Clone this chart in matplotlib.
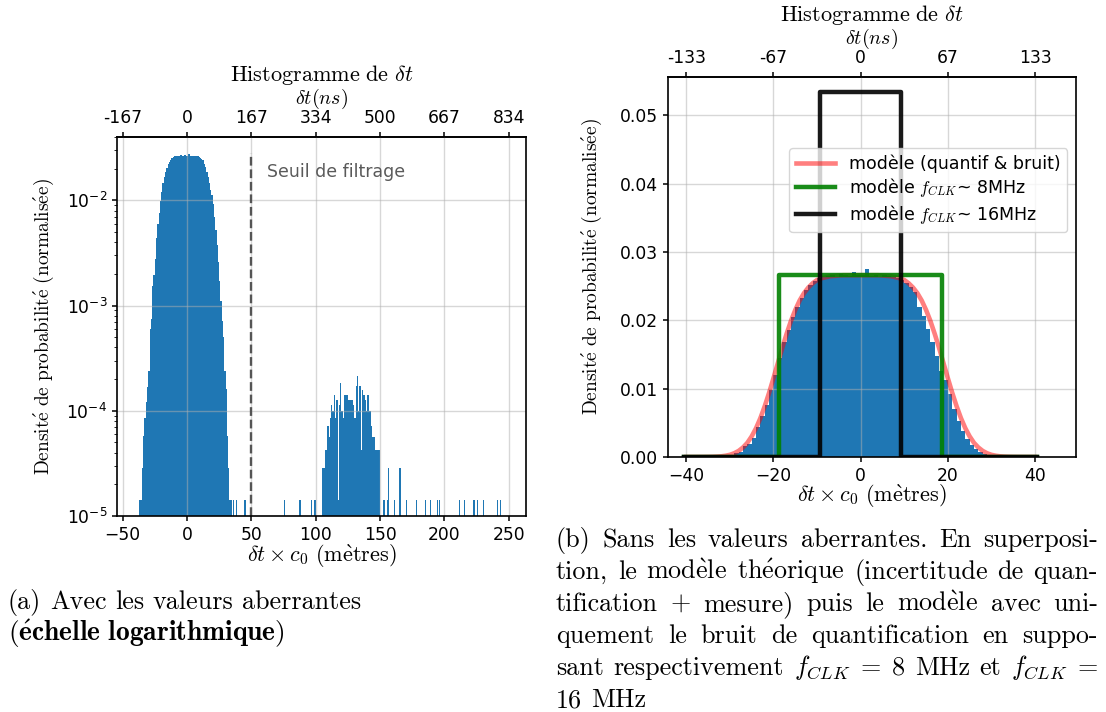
import numpy as np
import matplotlib
matplotlib.use("Agg")
import matplotlib.pyplot as plt

plt.rcParams['mathtext.fontset'] = 'cm'
plt.rcParams['axes.linewidth'] = 1.2
plt.rcParams['xtick.major.width'] = 1.1
plt.rcParams['ytick.major.width'] = 1.1
plt.rcParams['xtick.labelsize'] = 12.3
plt.rcParams['ytick.labelsize'] = 12.3

# ---------------- data ----------------
# main peak histogram (density), 1 m bins starting at -37 m
peak_start = -37.0
bin_w = 1.0
peak_density = [1.42e-5, 1.42e-5, 2.84e-5, 5.7e-5, 8.5e-5, 1.2e-4, 1.7e-4, 2.4e-4,
                6.0e-4, 7.5e-4, 1.55e-3, 1.95e-3, 2.8e-3, 4.4e-3, 6.0e-3, 7.6e-3, 9.8e-3, 0.0120,
                0.0145, 0.0168, 0.0186, 0.0205, 0.0220, 0.0233, 0.0244, 0.0252, 0.0257, 0.0262,
                0.0264, 0.0265, 0.0266, 0.0264, 0.0268, 0.0266, 0.0265, 0.0270, 0.0267, 0.0266,
                0.0275, 0.0265, 0.0267, 0.0264, 0.0266, 0.0265, 0.0263, 0.0262, 0.0259, 0.0254,
                0.0249, 0.0241, 0.0220, 0.0206, 0.0188, 0.0168, 0.0148, 0.0126, 0.0113, 9.2e-3,
                7.0e-3, 5.2e-3, 3.8e-3, 2.6e-3, 1.7e-3, 1.1e-3, 7.2e-4, 5.0e-4, 2.4e-4, 1.6e-4,
                5.7e-5, 2.84e-5, 1.42e-5, 1.42e-5]

# density of one single sample in a bin
unit = 1.42e-5
# outlier cluster (counts), 1 m bins starting at 105 m
cluster_start = 105.0
cluster_counts = [2, 2, 3, 3, 5, 4, 6, 8, 7, 10, 6, 9, 1, 8, 13, 7, 6, 10, 10, 10,
                  9, 9, 9, 9, 8, 6, 12, 15, 7, 12, 3, 11, 10, 9, 7, 10, 7, 7, 5, 4,
                  4, 3, 3, 3, 3]
# isolated outliers (bin left edge, counts)
iso_x = [36, 38, 44, 45, 75, 87, 88, 96, 99, 152, 153, 155, 156, 161, 165, 170, 178,
         185, 189, 194, 196, 211, 215, 222, 223, 225, 230, 241, 243]
iso_counts = [1, 1, 1, 1, 1, 1, 1, 1, 1, 1, 1, 1, 2, 1, 2, 1, 1,
              1, 1, 1, 1, 1, 1, 1, 1, 1, 1, 1, 1]
threshold = 50.0
threshold_top = 0.028

left_xticks = [-50, 0, 50, 100, 150, 200, 250]
left_top_labels = ['-167', '0', '167', '334', '500', '667', '834']
right_xticks = [-40, -20, 0, 20, 40]
right_top_labels = ['-133', '-67', '0', '67', '133']
right_yticks = [0.00, 0.01, 0.02, 0.03, 0.04, 0.05]

# theoretical model (quantification & noise), sampled every metre from -40 to 40
model_x = list(range(-40, 41))
model_y = [0.0, 0.0, 0.0, 0.000003, 0.000006, 0.000013, 0.000027, 0.000054, 0.00010, 0.000186,
           0.00032, 0.00055, 0.00089, 0.00139, 0.00207, 0.00302, 0.00422, 0.0057, 0.00745, 0.00941,
           0.01154, 0.01374, 0.01593, 0.0180, 0.0199, 0.02152, 0.0229, 0.02398, 0.0248, 0.02543,
           0.0259, 0.02615, 0.0263, 0.02645, 0.0265, 0.02656, 0.0266, 0.0266, 0.0266, 0.0266,
           0.0266,
           0.0266, 0.0266, 0.0266, 0.0266, 0.02656, 0.0265, 0.02645, 0.0263, 0.02615, 0.0259,
           0.02543, 0.0248, 0.02398, 0.0229, 0.02152, 0.0199, 0.0180, 0.01593, 0.01374, 0.01154,
           0.00941, 0.00745, 0.0057, 0.00422, 0.00302, 0.00207, 0.00139, 0.00089, 0.00055, 0.00032,
           0.000186, 0.00010, 0.000054, 0.000027, 0.000013, 0.000006, 0.000003, 0.0, 0.0, 0.0]
# uniform quantification models
clk8_x = [-40.5, -18.74, -18.74, 18.74, 18.74, 40.5]
clk8_y = [0.0, 0.0, 0.02669, 0.02669, 0.0, 0.0]
clk16_x = [-40.5, -9.3, -9.3, 9.3, 9.3, 40.5]
clk16_y = [0.0, 0.0, 0.0534, 0.0534, 0.0, 0.0]

BLUE = '#1f77b4'
W, H = 1106, 712
fig = plt.figure(figsize=(W / 100, H / 100), dpi=100)
axL = fig.add_axes([117 / W, 1 - 516 / H, 409 / W, 379 / H])
axR = fig.add_axes([668 / W, 1 - 457 / H, 408 / W, 380 / H])

GRID = dict(color='#b0b0b0', alpha=0.5, lw=1.0)

# ---------------- left plot ----------------
peak_edges = peak_start + bin_w * np.arange(len(peak_density) + 1)
cl_edges = cluster_start + bin_w * np.arange(len(cluster_counts) + 1)
axL.stairs(peak_density, peak_edges, fill=True, baseline=1e-9, color=BLUE, lw=0)
axL.stairs(np.array(cluster_counts) * unit, cl_edges, fill=True, baseline=1e-9, color=BLUE, lw=0)
axL.bar(iso_x, np.array(iso_counts) * unit, width=0.85, align='edge', bottom=1e-9,
        color=BLUE, lw=0)
axL.set_yscale('log')
axL.set_ylim(1e-5, 0.0401)
axL.set_xlim(-54.3, 263.3)
axL.set_xticks(left_xticks)
axL.grid(True, which='major', **GRID)
axL.plot([threshold, threshold], [1e-5, threshold_top], ls='--', color='#555555', lw=1.7)
axL.text(62, 0.0185, 'Seuil de filtrage', color='#5a5a5a', fontsize=12.5, va='center')
secL = axL.secondary_xaxis('top')
secL.set_ticks(left_xticks, labels=left_top_labels)
secL.tick_params(labelsize=12.3, width=1.1)

# ---------------- right plot ----------------
axR.stairs(peak_density, peak_edges, fill=True, color=BLUE, lw=0)
axR.plot(model_x, model_y, color='red', alpha=0.5, lw=3.3, label='modèle (quantif & bruit)')
axR.plot(clk8_x, clk8_y, color='green', alpha=0.9, lw=3.2, label=r'modèle $f_{CLK}$~ 8MHz')
axR.plot(clk16_x, clk16_y, color='k', alpha=0.9, lw=3.2, label=r'modèle $f_{CLK}$~ 16MHz')
axR.set_xlim(-44.2, 49.4)
axR.set_ylim(0, 0.0556)
axR.set_xticks(right_xticks)
axR.set_yticks(right_yticks)
axR.set_yticklabels(['%.2f' % v for v in right_yticks])
axR.grid(True, which='major', **GRID)
secR = axR.secondary_xaxis('top')
secR.set_ticks(right_xticks, labels=right_top_labels)
secR.tick_params(labelsize=12.3, width=1.1)
axR.legend(loc='upper right', bbox_to_anchor=(0.978, 0.813), borderaxespad=0,
           fontsize=12.5, handlelength=2.3, labelspacing=0.22, borderpad=0.35)

# ---------------- labels ----------------
ylab = r'$\mathrm{Densit\acute{e}\ de\ probabilit\acute{e}\ (normalis\acute{e}e)}$'
xlab = r'$\delta t \times c_0\ \mathrm{(m\grave{e}tres)}$'
title = r'$\mathrm{Histogramme\ de}\ \delta t$'
toplab = r'$\delta t(ns)$'
for ax, yx, xly in ((axL, -0.178, -0.108), (axR, -0.186, -0.103)):
    ax.text(yx, 0.5, ylab, rotation=90, transform=ax.transAxes, ha='center', va='center',
            fontsize=14)
    ax.text(0.5, xly, xlab, transform=ax.transAxes, ha='center', va='center', fontsize=16)
    ax.text(0.5, 1.163, title, transform=ax.transAxes, ha='center', va='center', fontsize=16)
    ax.text(0.5, 1.101, toplab, transform=ax.transAxes, ha='center', va='center', fontsize=14.4)

# ---------------- captions ----------------
CMFAM = ['cmr10', 'DejaVu Serif']
CAP = 18.8
renderer = fig.canvas.get_renderer()


def place_line(words, x0, x1, ybase, justify=True, size=CAP):
    objs = [fig.text(0, 1 - ybase / H, w, fontsize=size, family=CMFAM, va='baseline', ha='left')
            for w in words]
    widths = [t.get_window_extent(renderer).width for t in objs]
    if justify and len(objs) > 1:
        gap = (x1 - x0 - sum(widths)) / (len(objs) - 1)
    else:
        gap = size * 0.333 * 100 / 72
    x = x0
    for t, w in zip(objs, widths):
        t.set_position((x / W, 1 - ybase / H))
        x += w + gap


capA = [["(a)", "Avec", "les", "valeurs", "aberrantes"],
        [r"$\mathrm{(}\mathbf{\acute{e}chelle\ logarithmique}\mathrm{)}$"]]
capB = [["(b)", "Sans", "les", "valeurs", "aberrantes.", "En", "superposi-"],
        ["tion,", "le", r"$\mathrm{mod\grave{e}le}$", r"$\mathrm{th\acute{e}orique}$",
         "(incertitude", "de", "quan-"],
        ["tification", "+", "mesure)", "puis", "le", r"$\mathrm{mod\grave{e}le}$", "avec", "uni-"],
        ["quement", "le", "bruit", "de", "quantification", "en", "suppo-"],
        ["sant", "respectivement", r"$f_{CLK}\;=\;8$", "MHz", "et", r"$f_{CLK}\;=$"],
        ["16", "MHz"]]

place_line(capA[0], 8, 540, 609, justify=False)
place_line(capA[1], 8, 540, 641, justify=False, size=19.8)
b_base = [547, 579, 611, 643, 675, 707]
for i, words in enumerate(capB):
    place_line(words, 556, 1098, b_base[i], justify=(i < 5))

fig.savefig('out.png', dpi=100)
